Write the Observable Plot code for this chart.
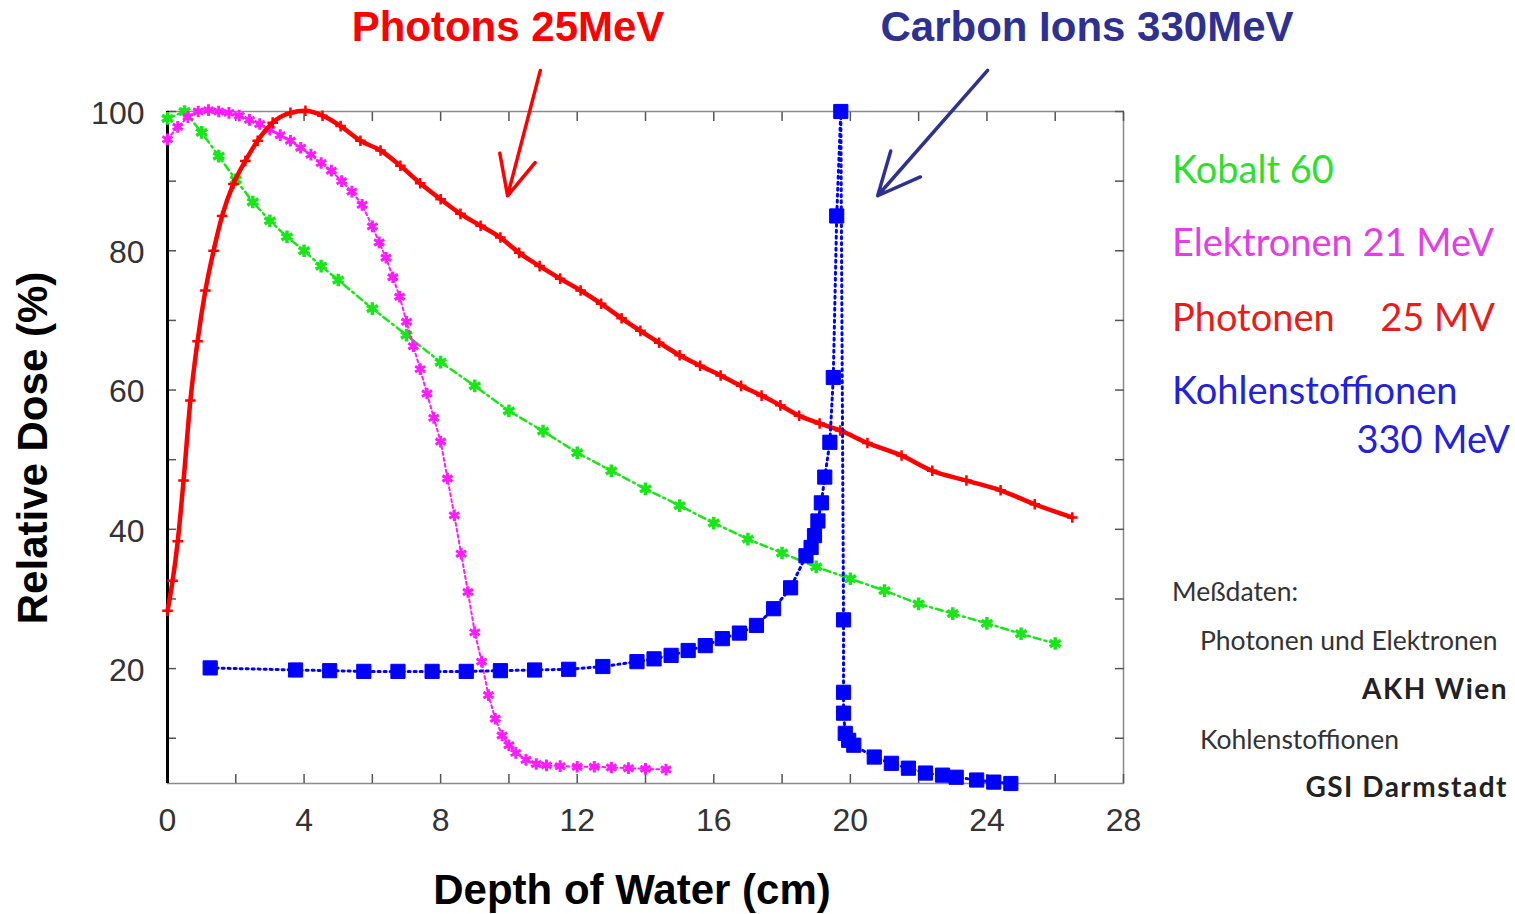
<!DOCTYPE html>
<html>
<head>
<meta charset="utf-8">
<script src="https://cdn.jsdelivr.net/npm/d3@7"></script>
<script src="https://cdn.jsdelivr.net/npm/@observablehq/plot@0.6"></script>
<style>
  html, body { margin: 0; padding: 0; background: #fff; }
  #wrap { position: relative; width: 1515px; height: 914px; overflow: hidden; }
  #wrap svg { position: absolute; left: 0; top: 0; }
  .t { position: absolute; white-space: nowrap; line-height: 1; }
  .bold { font-family: "Liberation Sans", Arial, sans-serif; font-weight: bold; font-size: 42px; }
  .leg { font-family: Lato, "Open Sans", sans-serif; font-size: 38px; }
  .src { font-family: Lato, "Open Sans", sans-serif; font-size: 26.5px; color: #333; }
  .srcb { font-family: Lato, "Open Sans", sans-serif; font-size: 28px; font-weight: bold; letter-spacing: 1.5px; color: #222; }
</style>
</head>
<body>
<div id="wrap"></div>
<script>
// ---- data (depth in cm, relative dose in %) ----
const cobaltDepth = [0, 0.5, 1, 1.5, 2, 2.5, 3, 3.5, 4, 4.5, 5, 6, 7, 8, 9, 10, 11, 12, 13, 14, 15, 16, 17, 18, 19, 20, 21, 22, 23, 24, 25, 26];
const cobaltDose  = [99, 100, 97, 93.6, 90.2, 87, 84.3, 82, 80, 77.8, 75.8, 71.7, 67.9, 64, 60.6, 57, 54.1, 51, 48.4, 45.8, 43.4, 40.9, 38.6, 36.6, 34.6, 32.9, 31.2, 29.3, 27.9, 26.5, 25, 23.6];

const elecDepth = [0, 0.3, 0.6, 0.9, 1.2, 1.5, 1.8, 2.1, 2.4, 2.7, 3.0, 3.3, 3.6, 3.9, 4.2, 4.5, 4.8, 5.1, 5.4, 5.7, 6.0, 6.2, 6.4, 6.6, 6.8, 7.0, 7.2, 7.4, 7.6, 7.8, 8.0, 8.2, 8.4, 8.6, 8.8, 9.0, 9.2, 9.4, 9.6, 9.8, 10.0, 10.2, 10.5, 10.8, 11.1, 11.5, 12, 12.5, 13, 13.5, 14, 14.6];
const elecDose  = [96, 97.8, 99.2, 100, 100.2, 100, 99.8, 99.4, 98.8, 98.2, 97.4, 96.6, 95.8, 94.8, 93.8, 92.6, 91.5, 90, 88.5, 86.6, 83.5, 81.2, 79, 76.2, 73.4, 69.8, 66.3, 63, 59.5, 56, 52.6, 47.3, 42, 36.5, 31, 25.2, 21, 16.2, 12.8, 10.4, 9.0, 7.9, 6.9, 6.3, 6.1, 6.0, 5.9, 5.9, 5.8, 5.7, 5.6, 5.5];

const photDepth = [0, 0.15, 0.3, 0.47, 0.67, 0.88, 1.11, 1.35, 1.6, 1.93, 2.28, 2.64, 3.08, 3.6, 4.04, 4.54, 5.07, 5.65, 6.24, 6.82, 7.4, 8.0, 8.58, 9.17, 9.75, 10.3, 10.9, 11.5, 12.1, 12.7, 13.3, 13.85, 14.4, 15.0, 15.6, 16.2, 16.8, 17.4, 17.95, 18.5, 19.1, 19.7, 20.5, 21.5, 22.4, 23.4, 24.4, 25.4, 26.5];
const photDose  = [28.3, 32.6, 38.3, 47, 58.5, 67, 74.3, 80, 85, 89.6, 92.9, 95.8, 98.4, 99.8, 100.1, 99.4, 97.9, 95.8, 94.4, 92.2, 89.7, 87.4, 85.3, 83.6, 81.9, 79.7, 77.8, 76, 74.3, 72.4, 70.3, 68.5, 66.8, 65, 63.5, 62.1, 60.6, 59.2, 57.8, 56.3, 55.2, 54.2, 52.4, 50.6, 48.4, 47, 45.6, 43.6, 41.7];

const carbDepth = [1.25, 3.75, 4.75, 5.75, 6.75, 7.75, 8.75, 9.75, 10.75, 11.75, 12.75, 13.75, 14.25, 14.75, 15.25, 15.75, 16.25, 16.75, 17.25, 17.75, 18.25, 18.7, 18.85, 18.95, 19.05, 19.15, 19.25, 19.4, 19.5, 19.6, 19.72, 19.8, 19.8, 19.8, 19.85, 19.95, 20.1, 20.7, 21.2, 21.7, 22.2, 22.7, 23.1, 23.7, 24.2, 24.7];
const carbDose  = [20.1, 19.8, 19.7, 19.6, 19.6, 19.6, 19.6, 19.7, 19.8, 19.9, 20.3, 21.0, 21.4, 21.9, 22.6, 23.3, 24.3, 25.1, 26.2, 28.6, 31.6, 36.2, 37.4, 39.1, 41.2, 43.8, 47.5, 52.5, 61.8, 85, 100, 27, 16.6, 13.6, 10.7, 9.7, 9.0, 7.3, 6.4, 5.7, 5.0, 4.7, 4.4, 4.0, 3.7, 3.5];

const xTicks = d3.range(0, 29, 2);
const xLabels = [0, 4, 8, 12, 16, 20, 24, 28];
const yTicks = d3.range(10, 101, 10);
const yLabels = [20, 40, 60, 80, 100];

// annotation arrows (data coords)
const arrowX1 = [10.92, 24.02];
const arrowY1 = [105.9, 105.9];
const arrowX2 = [9.96, 20.8];
const arrowY2 = [87.9, 87.9];
const arrowColor = ["#ff0000", "#2e3192"];

const zip = (xs, ys) => xs.map((x, i) => ({x, y: ys[i]}));
const cobalt = zip(cobaltDepth, cobaltDose);
const elec = zip(elecDepth, elecDose);
const phot = zip(photDepth, photDose);
const carb = zip(carbDepth, carbDose);
const arrows = arrowX1.map((x, i) => ({x1: x, y1: arrowY1[i], x2: arrowX2[i], y2: arrowY2[i], c: arrowColor[i]}));

const GREEN = "#19e619", MAG = "#ff1aff", RED = "#ff0000", BLUE = "#0000ff";
const tickFont = {fontSize: 32, fill: "#333", fontFamily: "'Liberation Sans', Arial, sans-serif"};
const noLabel = () => "";
const tickStyle = {tickSize: -9, tickFormat: noLabel, stroke: "#555", strokeWidth: 1.5};

const chart = Plot.plot({
  width: 1515,
  height: 914,
  marginLeft: 167,
  marginRight: 392,
  marginTop: 111,
  marginBottom: 131,
  x: {domain: [0, 28]},
  y: {domain: [3.5, 100]},
  marks: [
    Plot.frame({stroke: "#8a8a8a", strokeWidth: 1.5}),
    Plot.axisX(xTicks, {anchor: "bottom", ...tickStyle}),
    Plot.axisX(xTicks, {anchor: "top", ...tickStyle}),
    Plot.axisY(yTicks, {anchor: "left", ...tickStyle}),
    Plot.axisY(yTicks, {anchor: "right", ...tickStyle}),
    Plot.ruleX([0], {stroke: "#000", strokeWidth: 3}),
    Plot.text(xLabels, {x: d => d, frameAnchor: "bottom", dy: 47, text: d => String(d), ...tickFont}),
    Plot.text(yLabels, {y: d => d, frameAnchor: "left", dx: -23, dy: 2, textAnchor: "end", text: d => String(d), ...tickFont}),

    // Cobalt 60
    Plot.line(cobalt, {x: "x", y: "y", stroke: GREEN, strokeWidth: 2.5, strokeDasharray: "7,4,2,4"}),
    Plot.dot(cobalt, {x: "x", y: "y", symbol: "asterisk", r: 6, stroke: GREEN, strokeWidth: 3.5}),
    // Electrons
    Plot.line(elec, {x: "x", y: "y", stroke: MAG, strokeWidth: 2, strokeDasharray: "3,3"}),
    Plot.dot(elec, {x: "x", y: "y", symbol: "asterisk", r: 5.5, stroke: MAG, strokeWidth: 3}),
    // Photons
    Plot.line(phot, {x: "x", y: "y", stroke: RED, strokeWidth: 4.5, curve: "monotone-x"}),
    Plot.dot(phot, {x: "x", y: "y", symbol: "plus", r: 3.5, stroke: RED, strokeWidth: 2.5}),
    // Carbon ions
    Plot.line(carb, {x: "x", y: "y", stroke: BLUE, strokeWidth: 3, strokeDasharray: "2,4"}),
    Plot.dot(carb, {x: "x", y: "y", symbol: "square", r: 8, fill: BLUE, stroke: BLUE, strokeWidth: 1}),

    // annotation arrows
    Plot.arrow(arrows, {x1: "x1", y1: "y1", x2: "x2", y2: "y2", stroke: "c", strokeWidth: 3.5, headLength: 20, headAngle: 50})
  ]
});

const wrap = document.getElementById("wrap");
wrap.appendChild(chart);

// text annotations
const labels = [
  {text: "Photons 25MeV", cls: "bold", color: "#ff0000", x: 508, y: 27, anchor: "center"},
  {text: "Carbon Ions 330MeV", cls: "bold", color: "#2e3192", x: 1087, y: 27, anchor: "center"},
  {text: "Depth of Water (cm)", cls: "bold", color: "#000", x: 632, y: 890, anchor: "center"},
  {text: "Relative Dose (%)", cls: "bold", color: "#000", x: 33, y: 448, anchor: "center", rotate: true},
  {text: "Kobalt 60", cls: "leg", color: "#2ee02e", x: 1172, y: 168, anchor: "left"},
  {text: "Elektronen 21 MeV", cls: "leg", color: "#e53de5", x: 1172, y: 241, anchor: "left"},
  {text: "Photonen", cls: "leg", color: "#ea1b1b", x: 1172, y: 316, anchor: "left"},
  {text: "25 MV", cls: "leg", color: "#ea1b1b", x: 1495, y: 316, anchor: "right"},
  {text: "Kohlenstoffionen", cls: "leg", color: "#2121e0", x: 1172, y: 389, anchor: "left"},
  {text: "330 MeV", cls: "leg", color: "#2121e0", x: 1510, y: 438, anchor: "right"},
  {text: "Meßdaten:", cls: "src", color: "#333", x: 1172, y: 591, anchor: "left"},
  {text: "Photonen und Elektronen", cls: "src", color: "#333", x: 1200, y: 640, anchor: "left"},
  {text: "AKH Wien", cls: "srcb", color: "#222", x: 1508, y: 688, anchor: "right"},
  {text: "Kohlenstoffionen", cls: "src", color: "#333", x: 1200, y: 739, anchor: "left"},
  {text: "GSI Darmstadt", cls: "srcb", color: "#222", x: 1508, y: 786, anchor: "right"}
];
for (const l of labels) {
  const d = document.createElement("div");
  d.className = "t " + l.cls;
  d.textContent = l.text;
  d.style.color = l.color;
  d.style.top = l.y + "px";
  if (l.anchor === "center") {
    d.style.left = l.x + "px";
    d.style.transform = "translate(-50%,-50%)" + (l.rotate ? " rotate(-90deg)" : "");
  } else if (l.anchor === "left") {
    d.style.left = l.x + "px";
    d.style.transform = "translate(0,-50%)";
  } else {
    d.style.right = (1515 - l.x) + "px";
    d.style.transform = "translate(0,-50%)";
  }
  wrap.appendChild(d);
}
</script>
</body>
</html>
